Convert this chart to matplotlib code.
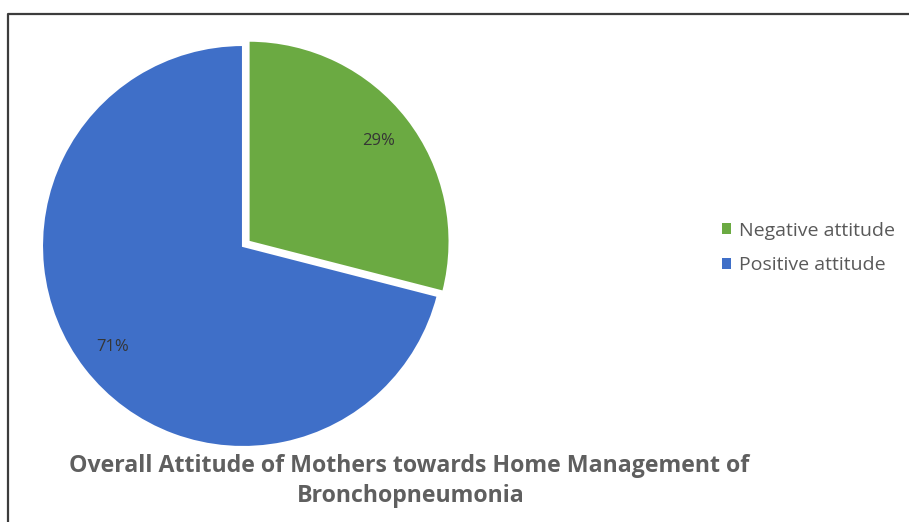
import matplotlib.pyplot as plt
from matplotlib.lines import Line2D
from matplotlib.patches import Patch

# Data
categories = ["Negative attitude", "Positive attitude"]
shares = [29, 71]
slice_colors = ["#6BAA42", "#3F6FC8"]
title_lines = ["Overall Attitude of Mothers towards Home Management of",
               "Bronchopneumonia"]

W, H = 909, 522
fig = plt.figure(figsize=(W / 100, H / 100), dpi=100)
fig.patch.set_facecolor("white")

def px_box(cx, cy, half):
    """Axes rect (figure fraction) for a square of half-size `half` px centred at (cx, cy) px from top-left."""
    return [(cx - half) / W, (H - cy - half) / H, 2 * half / W, 2 * half / H]

# Pie: radius 1 in data units = 201 px
R_PX = 201
LIM = 1.15
ax = fig.add_axes(px_box(243, 246, R_PX * LIM))

wedges, texts, autotexts = ax.pie(
    shares,
    colors=slice_colors,
    startangle=90,
    counterclock=False,
    explode=[0.035, 0],
    radius=1.0,
    autopct="%d%%",
    pctdistance=0.82,
    wedgeprops=dict(edgecolor="white", linewidth=1.5),
    textprops=dict(fontsize=12, color="#353535", family="Open Sans"),
)
ax.set_xlim(-LIM, LIM)
ax.set_ylim(-LIM, LIM)
ax.set_aspect("equal")
ax.axis("off")

# Legend
handles = [Patch(facecolor=c, edgecolor="none") for c in slice_colors]
fig.legend(
    handles, categories,
    loc="center left",
    bbox_to_anchor=(704 / W, 1 - 248 / H),
    frameon=False,
    prop=dict(family="Open Sans", size=14),
    labelcolor="#595959",
    handlelength=0.5, handleheight=0.5,
    handletextpad=0.42,
    labelspacing=0.85,
)

# Title beneath the pie
title_style = dict(ha="center", va="center", fontsize=16.7, color="#5f5f5f",
                   family="Open Sans", fontweight="bold")
fig.text(409 / W, 1 - 466 / H, title_lines[0], **title_style)
fig.text(411 / W, 1 - 496 / H, title_lines[1], **title_style)

# Outer frame (top and left edges)
frame = Line2D([8 / W, 8 / W, 1.0], [0.0, 1 - 14 / H, 1 - 14 / H],
               transform=fig.transFigure, color="#3c3c3c", linewidth=1.6)
fig.add_artist(frame)

fig.savefig("out.png", dpi=100)
